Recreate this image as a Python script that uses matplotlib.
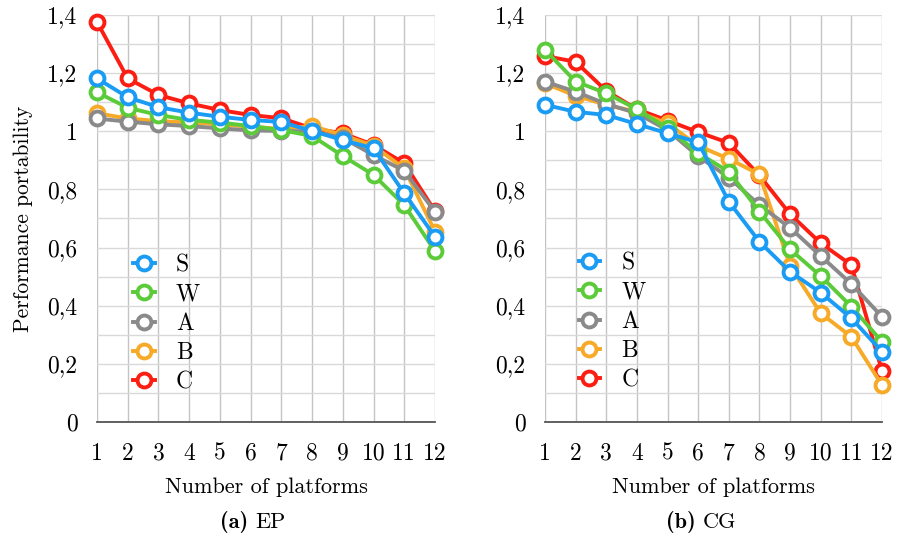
import matplotlib
matplotlib.use("Agg")
import matplotlib.pyplot as plt
from matplotlib.ticker import FixedLocator, MultipleLocator

platforms = list(range(1, 13))
series_names = ["S", "W", "A", "B", "C"]
colors = {"S": "#1a9cf5", "W": "#5ccb3a", "A": "#8a8a8a", "B": "#f7a928", "C": "#fc1e12"}

ep_S = [1.182, 1.117, 1.083, 1.064, 1.050, 1.039, 1.032, 1.001, 0.970, 0.941, 0.787, 0.637]
ep_W = [1.134, 1.081, 1.056, 1.039, 1.030, 1.018, 1.004, 0.984, 0.915, 0.850, 0.746, 0.588]
ep_A = [1.044, 1.033, 1.024, 1.018, 1.010, 1.003, 1.001, 1.000, 0.977, 0.918, 0.864, 0.723]
ep_B = [1.062, 1.044, 1.035, 1.030, 1.024, 1.016, 1.008, 1.018, 0.987, 0.950, 0.872, 0.655]
ep_C = [1.376, 1.182, 1.125, 1.096, 1.073, 1.056, 1.045, 1.010, 0.993, 0.953, 0.890, 0.725]

cg_S = [1.091, 1.067, 1.056, 1.025, 0.993, 0.962, 0.758, 0.620, 0.517, 0.445, 0.357, 0.242]
cg_W = [1.280, 1.171, 1.131, 1.076, 1.010, 0.925, 0.861, 0.724, 0.594, 0.502, 0.397, 0.276]
cg_A = [1.171, 1.136, 1.094, 1.062, 1.004, 0.914, 0.841, 0.746, 0.668, 0.571, 0.475, 0.362]
cg_B = [1.165, 1.122, 1.091, 1.067, 1.027, 0.950, 0.905, 0.852, 0.537, 0.374, 0.293, 0.127]
cg_C = [1.259, 1.239, 1.139, 1.076, 1.037, 0.997, 0.960, 0.848, 0.715, 0.615, 0.540, 0.176]

ytick_values = [0, 0.2, 0.4, 0.6, 0.8, 1.0, 1.2, 1.4]
ytick_labels = ["0", "0,2", "0,4", "0,6", "0,8", "1", "1,2", "1,4"]
xlabel = "Number of platforms"
ylabel = "Performance portability"
captions = [("(a)", "EP"), ("(b)", "CG")]

ep = {"S": ep_S, "W": ep_W, "A": ep_A, "B": ep_B, "C": ep_C}
cg = {"S": cg_S, "W": cg_W, "A": cg_A, "B": cg_B, "C": cg_C}

plt.rcParams["font.family"] = ["cmr10", "DejaVu Serif"]
plt.rcParams["axes.unicode_minus"] = False

fig = plt.figure(figsize=(8.98, 5.41), dpi=100)
W, H = 898, 541
axes_px = [(97, 435), (545, 882)]
y0_px, y1_px = 422, 15
legend_pos = [(0.08, 0.435), (0.072, 0.44)]

for i, (data, (xl, xr)) in enumerate(zip([ep, cg], axes_px)):
    ax = fig.add_axes([xl / W, 1 - y0_px / H, (xr - xl) / W, (y0_px - y1_px) / H])
    ax.set_xlim(1, 12)
    ax.set_ylim(0, 1.4)
    ax.yaxis.set_major_locator(FixedLocator(ytick_values))
    ax.set_yticklabels(ytick_labels)
    ax.yaxis.set_minor_locator(MultipleLocator(0.1))
    ax.xaxis.set_major_locator(FixedLocator(platforms))
    ax.set_xticklabels([str(p) for p in platforms])
    ax.grid(True, which="major", axis="x", color="#c4c4c4", lw=1.0)
    ax.grid(True, which="both", axis="y", color="#d9d9d9", lw=1.0)
    ax.set_axisbelow(True)
    for s in ["left", "right", "top"]:
        ax.spines[s].set_visible(False)
    ax.spines["bottom"].set_color("#555555")
    ax.spines["bottom"].set_linewidth(1.3)
    ax.tick_params(which="both", length=0, labelsize=17)
    ax.tick_params(axis="y", pad=14)
    ax.tick_params(axis="x", pad=15)
    handles = []
    for k, name in enumerate(series_names):
        z = 10 - k
        h, = ax.plot(platforms, data[name], color=colors[name], lw=2.8,
                     marker="o", ms=10, mfc="white", mec=colors[name], mew=2.8,
                     zorder=z, clip_on=False, label=name)
        handles.append(h)
    ax.legend(handles=handles, loc="upper left", bbox_to_anchor=legend_pos[i],
              frameon=False, fontsize=17, handlelength=0.9, handletextpad=0.9,
              labelspacing=0.3, borderaxespad=0)
    ax.set_xlabel(xlabel, fontsize=16, labelpad=9)
    if i == 0:
        ax.set_ylabel(ylabel, fontsize=15.5, labelpad=10)
    cx = (xl + xr) / 2 / W
    fig.text(cx - 0.012, 1 - 522 / H, captions[i][0] + " ", ha="right", va="center",
             fontsize=16, family=["cmb10", "DejaVu Serif"])
    fig.text(cx - 0.012, 1 - 522 / H, captions[i][1], ha="left", va="center", fontsize=16)

fig.savefig("out.png", dpi=100)
